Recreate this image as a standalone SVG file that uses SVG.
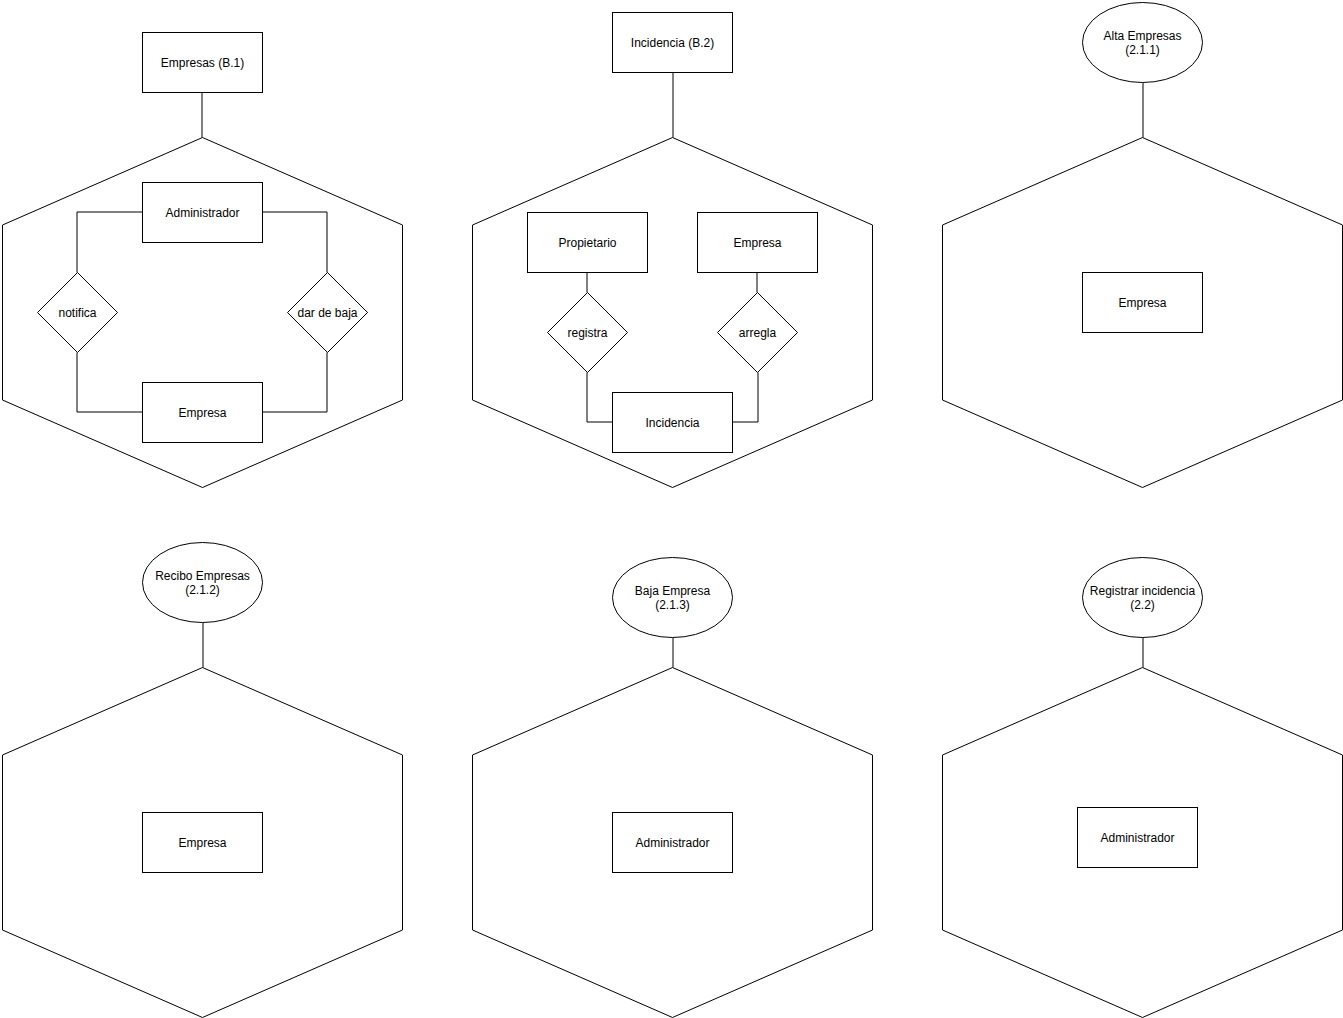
<svg xmlns="http://www.w3.org/2000/svg" width="1343" height="1018" viewBox="0 0 1343 1018">
  <style>
    .shape { fill: #ffffff; stroke: #000000; stroke-width: 1; }
    .edge { fill: none; stroke: #000000; stroke-width: 1; }
    text { font-family: "Liberation Sans", Arial, Helvetica, sans-serif; font-size: 12px; fill: #000000; text-anchor: middle; }
  </style>
  <defs>
    <!-- hexagon outline, 400 wide, 350 tall, top vertex at origin -->
    <polygon id="hex" class="shape" points="0,0 200,87.5 200,262.5 0,350 -200,262.5 -200,87.5"/>
  </defs>

  <rect width="1343" height="1018" fill="#ffffff"/>

  <!-- hexagon containers (drawn first so connectors sit on top) -->
  <g id="hex-b1"><use href="#hex" x="202.5" y="137.5"/></g>
  <g id="hex-b2"><use href="#hex" x="672.5" y="137.5"/></g>
  <g id="hex-211"><use href="#hex" x="1142.5" y="137.5"/></g>
  <g id="hex-212"><use href="#hex" x="202.5" y="667.5"/></g>
  <g id="hex-213"><use href="#hex" x="672.5" y="667.5"/></g>
  <g id="hex-22"><use href="#hex" x="1142.5" y="667.5"/></g>

  <!-- connectors -->
  <g id="connectors">
    <path class="edge" d="M202,92.5 V137.5"/>
    <path class="edge" d="M142.5,212 H77 V272.5"/>
    <path class="edge" d="M262.5,212 H327 V272.5"/>
    <path class="edge" d="M77,352.5 V412 H142.5"/>
    <path class="edge" d="M327,352.5 V412 H262.5"/>

    <path class="edge" d="M673,72.5 V137.5"/>
    <path class="edge" d="M587,272.5 V292.5"/>
    <path class="edge" d="M757,272.5 V292.5"/>
    <path class="edge" d="M587,372.5 V422 H612.5"/>
    <path class="edge" d="M758,372.5 V422 H732.5"/>

    <path class="edge" d="M1143,82.5 V137.5"/>
    <path class="edge" d="M203,622.5 V667.5"/>
    <path class="edge" d="M673,637.5 V667.5"/>
    <path class="edge" d="M1143,637.5 V667.5"/>
  </g>

  <!-- Empresas (B.1) -->
  <g id="empresas-b1"><rect class="shape" x="142.5" y="32.5" width="120" height="60"/><text x="202.5" y="67">Empresas (B.1)</text></g>
  <g id="b1-administrador"><rect class="shape" x="142.5" y="182.5" width="120" height="60"/><text x="202.5" y="217">Administrador</text></g>
  <g id="b1-empresa"><rect class="shape" x="142.5" y="382.5" width="120" height="60"/><text x="202.5" y="417">Empresa</text></g>
  <g id="b1-notifica"><polygon class="shape" points="77.5,272.5 117.5,312.5 77.5,352.5 37.5,312.5"/><text x="77.5" y="317">notifica</text></g>
  <g id="b1-dar-de-baja"><polygon class="shape" points="327.5,272.5 367.5,312.5 327.5,352.5 287.5,312.5"/><text x="327.5" y="317">dar de baja</text></g>

  <!-- Incidencia (B.2) -->
  <g id="incidencia-b2"><rect class="shape" x="612.5" y="12.5" width="120" height="60"/><text x="672.5" y="47">Incidencia (B.2)</text></g>
  <g id="b2-propietario"><rect class="shape" x="527.5" y="212.5" width="120" height="60"/><text x="587.5" y="247">Propietario</text></g>
  <g id="b2-empresa"><rect class="shape" x="697.5" y="212.5" width="120" height="60"/><text x="757.5" y="247">Empresa</text></g>
  <g id="b2-registra"><polygon class="shape" points="587.5,292.5 627.5,332.5 587.5,372.5 547.5,332.5"/><text x="587.5" y="337">registra</text></g>
  <g id="b2-arregla"><polygon class="shape" points="757.5,292.5 797.5,332.5 757.5,372.5 717.5,332.5"/><text x="757.5" y="337">arregla</text></g>
  <g id="b2-incidencia"><rect class="shape" x="612.5" y="392.5" width="120" height="60"/><text x="672.5" y="427">Incidencia</text></g>

  <!-- Alta Empresas (2.1.1) -->
  <g id="alta-empresas"><ellipse class="shape" cx="1142.5" cy="42.5" rx="60" ry="40"/><text x="1142.5" y="40">Alta Empresas</text><text x="1142.5" y="54">(2.1.1)</text></g>
  <g id="211-empresa"><rect class="shape" x="1082.5" y="272.5" width="120" height="60"/><text x="1142.5" y="307">Empresa</text></g>

  <!-- Recibo Empresas (2.1.2) -->
  <g id="recibo-empresas"><ellipse class="shape" cx="202.5" cy="582.5" rx="60" ry="40"/><text x="202.5" y="580">Recibo Empresas</text><text x="202.5" y="594">(2.1.2)</text></g>
  <g id="212-empresa"><rect class="shape" x="142.5" y="812.5" width="120" height="60"/><text x="202.5" y="847">Empresa</text></g>

  <!-- Baja Empresa (2.1.3) -->
  <g id="baja-empresa"><ellipse class="shape" cx="672.5" cy="597.5" rx="60" ry="40"/><text x="672.5" y="595">Baja Empresa</text><text x="672.5" y="609">(2.1.3)</text></g>
  <g id="213-administrador"><rect class="shape" x="612.5" y="812.5" width="120" height="60"/><text x="672.5" y="847">Administrador</text></g>

  <!-- Registrar incidencia (2.2) -->
  <g id="registrar-incidencia"><ellipse class="shape" cx="1142.5" cy="597.5" rx="60" ry="40"/><text x="1142.5" y="595">Registrar incidencia</text><text x="1142.5" y="609">(2.2)</text></g>
  <g id="22-administrador"><rect class="shape" x="1077.5" y="807.5" width="120" height="60"/><text x="1137.5" y="842">Administrador</text></g>
</svg>
